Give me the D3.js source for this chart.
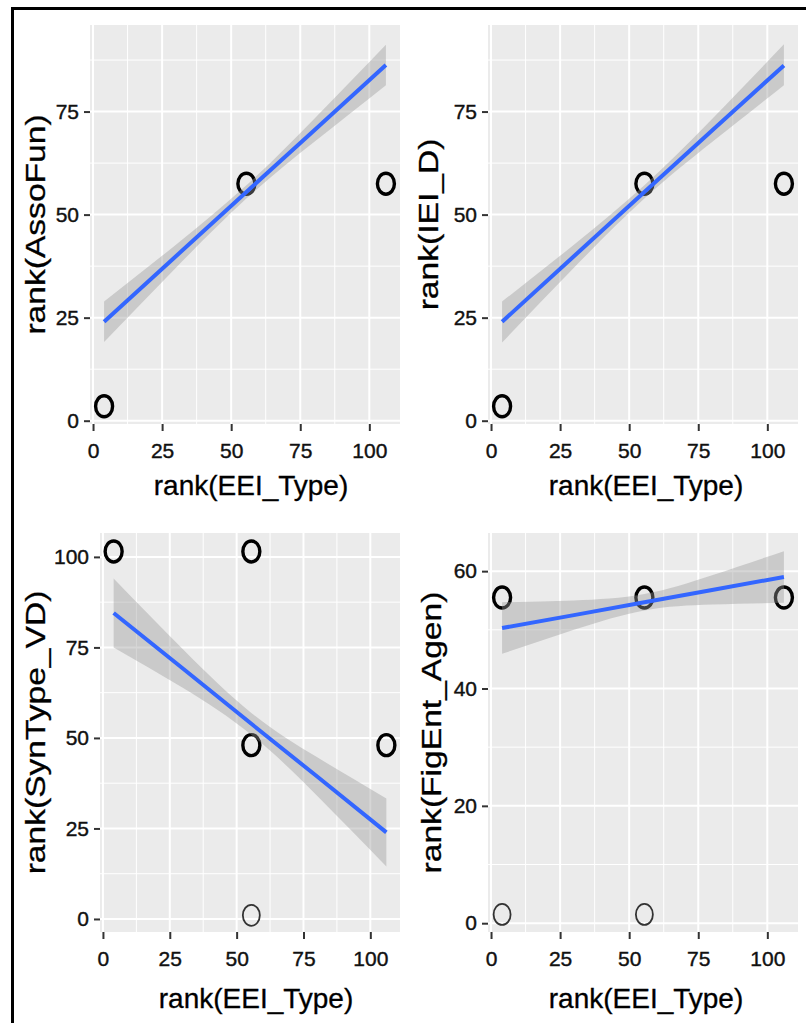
<!DOCTYPE html>
<html>
<head>
<meta charset="utf-8">
<script src="https://cdn.jsdelivr.net/npm/d3@7"></script>
<style>
  body { margin: 0; background: #fff; }
  svg { display: block; }
</style>
</head>
<body>
<svg id="chart" width="806" height="1023"></svg>
<script>
// общая ось X: rank(EEI_Type)
const xTicks = [0, 25, 50, 75, 100];

// точки: [x, y, n], n - примерное число наблюдений в точке
const assoFunPts = [[4, 3.5, 6], [55.5, 57.5, 90], [106, 57.5, 5]];
const ieiDPts    = [[4, 3.5, 6], [55.5, 57.5, 90], [106, 57.5, 5]];
const synTypePts = [[4, 101.5, 7], [55.5, 101.5, 7], [55.5, 48, 88], [106, 48, 5], [55.5, 1, 1]];
const figEntPts  = [[4, 55.5, 6], [55.5, 55.5, 95], [106, 55.5, 5], [4, 1.5, 1], [55.5, 1.5, 1]];

// линия регрессии и доверительная полоса
const fitX = [4, 30, 55.5, 80, 106];

const assoFunFit  = [24.0, 39.9, 55.5, 70.4, 86.3];
const assoFunLow  = [19.1, 37.1, 53.9, 67.6, 81.4];
const assoFunHigh = [28.9, 42.7, 57.1, 73.2, 91.2];

const ieiDFit  = [24.0, 39.9, 55.5, 70.4, 86.2];
const ieiDLow  = [19.0, 37.1, 53.9, 67.6, 81.4];
const ieiDHigh = [28.9, 42.7, 57.1, 73.2, 91.3];

const synTypeFit  = [84.5, 69.1, 53.9, 39.4, 23.9];
const synTypeLow  = [75.0, 63.8, 50.9, 34.1, 14.5];
const synTypeHigh = [94.0, 74.4, 56.9, 44.7, 33.3];

const figEntFit  = [50.3, 52.5, 54.7, 56.8, 59.0];
const figEntLow  = [45.9, 50.0, 53.3, 54.3, 54.6];
const figEntHigh = [54.7, 55.0, 56.1, 59.3, 63.4];

const yTicksRank  = [0, 25, 50, 75];
const yTicksSyn   = [0, 25, 50, 75, 100];
const yTicksFig   = [0, 20, 40, 60];

const xTitle = "rank(EEI_Type)";
const font = "'Liberation Sans', Arial, Helvetica, sans-serif";

// описание панелей: данные + положение на странице
const panels = [
  { yTitle: "rank(AssoFun)", pts: assoFunPts, fit: assoFunFit, low: assoFunLow, high: assoFunHigh,
    yTicks: yTicksRank, yDomain: [-0.8, 96.0],
    x0: 90, x1: 400, y0: 25, y1: 424, yTitleX: 35, xTitleDx: 6, xTitleY: 495 },
  { yTitle: "rank(IEI_D)", pts: ieiDPts, fit: ieiDFit, low: ieiDLow, high: ieiDHigh,
    yTicks: yTicksRank, yDomain: [-0.8, 96.0],
    x0: 488, x1: 798, y0: 25, y1: 424, yTitleX: 428, xTitleDx: 3, xTitleY: 495 },
  { yTitle: "rank(SynType_VD)", pts: synTypePts, fit: synTypeFit, low: synTypeLow, high: synTypeHigh,
    yTicks: yTicksSyn, yDomain: [-3.6, 106.6],
    x0: 100, x1: 400, y0: 533, y1: 932, yTitleX: 35, xTitleDx: 6, xTitleY: 1008 },
  { yTitle: "rank(FigEnt_Agen)", pts: figEntPts, fit: figEntFit, low: figEntLow, high: figEntHigh,
    yTicks: yTicksFig, yDomain: [-1.5, 66.5],
    x0: 488, x1: 798, y0: 533, y1: 932, yTitleX: 431, xTitleDx: 3, xTitleY: 1008 }
];

// промежуточные (minor) линии сетки - середины между основными
function minorTicks(ticks, domain) {
  const step = ticks[1] - ticks[0];
  let res = [];
  for (let t = ticks[0] - step / 2; t <= ticks[ticks.length - 1] + step / 2; t += step) {
    if (t >= domain[0] && t <= domain[1]) res.push(t);
  }
  return res;
}

function drawPanel(svg, p) {
  const scX = d3.scaleLinear().domain([-1.1, 111.1]).range([p.x0, p.x1]);
  const scY = d3.scaleLinear().domain(p.yDomain).range([p.y1, p.y0]);
  const g = svg.append("g");

  // фон панели
  g.append("rect")
    .attr("x", p.x0).attr("y", p.y0)
    .attr("width", p.x1 - p.x0).attr("height", p.y1 - p.y0)
    .attr("fill", "#EBEBEB");

  // сетка
  const grid = g.append("g").attr("stroke", "#fff");
  grid.selectAll(".vmin").data(minorTicks(xTicks, scX.domain())).enter().append("line")
    .attr("x1", d => scX(d)).attr("x2", d => scX(d))
    .attr("y1", p.y0).attr("y2", p.y1).attr("stroke-width", 1);
  grid.selectAll(".hmin").data(minorTicks(p.yTicks, p.yDomain)).enter().append("line")
    .attr("y1", d => scY(d)).attr("y2", d => scY(d))
    .attr("x1", p.x0).attr("x2", p.x1).attr("stroke-width", 1);
  grid.selectAll(".vmaj").data(xTicks).enter().append("line")
    .attr("x1", d => scX(d)).attr("x2", d => scX(d))
    .attr("y1", p.y0).attr("y2", p.y1).attr("stroke-width", 2);
  grid.selectAll(".hmaj").data(p.yTicks).enter().append("line")
    .attr("y1", d => scY(d)).attr("y2", d => scY(d))
    .attr("x1", p.x0).attr("x2", p.x1).attr("stroke-width", 2);

  // точки (кольца); одиночные наблюдения - тоньше
  g.selectAll(".pt").data(p.pts).enter().append("ellipse")
    .attr("cx", d => scX(d[0]))
    .attr("cy", d => scY(d[1]))
    .attr("rx", 8.5).attr("ry", 10.5)
    .attr("fill", "none")
    .attr("stroke", d => d[2] > 2 ? "#000" : "#333")
    .attr("stroke-width", d => d[2] > 2 ? 3.4 : 1.8);

  // доверительная полоса
  const band = fitX.map((x, i) => ({ x: x, lo: p.low[i], hi: p.high[i], y: p.fit[i] }));
  const area = d3.area()
    .x(d => scX(d.x))
    .y0(d => scY(d.lo))
    .y1(d => scY(d.hi))
    .curve(d3.curveNatural);
  g.append("path")
    .attr("d", area(band))
    .attr("fill", "#999999")
    .attr("fill-opacity", 0.4);

  const line = d3.line().x(d => scX(d.x)).y(d => scY(d.y));
  g.append("path")
    .attr("d", line(band))
    .attr("fill", "none")
    .attr("stroke", "#3366FF")
    .attr("stroke-width", 4);

  // оси
  const gx = g.append("g")
    .attr("transform", `translate(0, ${p.y1})`)
    .call(d3.axisBottom(scX).tickValues(xTicks).tickSize(7).tickPadding(12));
  const gy = g.append("g")
    .attr("transform", `translate(${p.x0}, 0)`)
    .call(d3.axisLeft(scY).tickValues(p.yTicks).tickSize(6).tickPadding(5));
  for (let ax of [gx, gy]) {
    ax.select(".domain").remove();
    ax.selectAll("line").attr("stroke", "#333").attr("stroke-width", 2);
    ax.selectAll("text")
      .style("font-family", font)
      .style("font-size", "21px")
      .attr("fill", "#111")
      .attr("stroke", "#111")
      .attr("stroke-width", 0.4);
  }

  // подписи осей
  g.append("text")
    .attr("x", (p.x0 + p.x1) / 2 + p.xTitleDx)
    .attr("y", p.xTitleY)
    .attr("text-anchor", "middle")
    .style("font-family", font)
    .style("font-size", "28px")
    .attr("fill", "#000")
    .attr("stroke", "#000")
    .attr("stroke-width", 0.3)
    .text(xTitle);

  g.append("text")
    .attr("transform", `translate(${p.yTitleX}, ${(p.y0 + p.y1) / 2}) rotate(-90) scale(1.2, 1)`)
    .attr("dy", "0.35em")
    .attr("text-anchor", "middle")
    .style("font-family", font)
    .style("font-size", "28px")
    .attr("fill", "#000")
    .attr("stroke", "#000")
    .attr("stroke-width", 0.3)
    .text(p.yTitle);
}

const svg = d3.select("#chart");
svg.append("rect").attr("width", 806).attr("height", 1023).attr("fill", "#fff");

for (let p of panels) drawPanel(svg, p);

// рамка вокруг рисунка (правый и нижний края за пределами кадра)
svg.append("path")
  .attr("d", "M12.5,1023 L12.5,8.5 L806,8.5")
  .attr("fill", "none")
  .attr("stroke", "#000")
  .attr("stroke-width", 3);
</script>
</body>
</html>
